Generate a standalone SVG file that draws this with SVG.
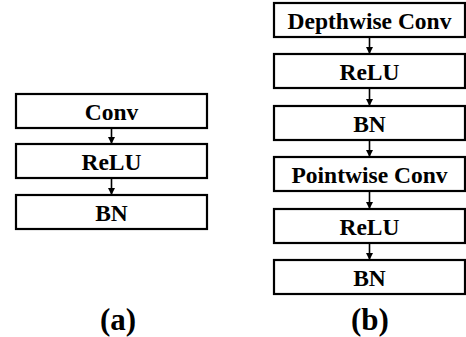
<svg xmlns="http://www.w3.org/2000/svg" width="466" height="337" viewBox="0 0 466 337">
<style>
.box{fill:#fff;stroke:#000;stroke-width:2.2}
.t{font-family:"Liberation Serif","Times New Roman",serif;font-weight:bold;font-size:23.5px;text-anchor:middle;fill:#000}
.lbl{font-family:"Liberation Serif","Times New Roman",serif;font-weight:bold;font-size:31px;text-anchor:middle;fill:#000}
.c{stroke:#000;stroke-width:1.6;fill:none}
</style>
<defs>
<marker id="ah" viewBox="0 0 8 8" refX="8" refY="4" markerWidth="4.5" markerHeight="4.5" orient="auto" markerUnits="strokeWidth">
<path d="M0,0 L8,4 L0,8 Z" fill="#000"/>
</marker>
</defs>
<rect width="466" height="337" fill="#fff"/>
<g id="connectors">
<line class="c" x1="111.5" y1="128" x2="111.5" y2="144" marker-end="url(#ah)"/>
<line class="c" x1="111.5" y1="178" x2="111.5" y2="195" marker-end="url(#ah)"/>
<line class="c" x1="369.5" y1="37" x2="369.5" y2="54" marker-end="url(#ah)"/>
<line class="c" x1="369.5" y1="88" x2="369.5" y2="106" marker-end="url(#ah)"/>
<line class="c" x1="369.5" y1="140" x2="369.5" y2="157" marker-end="url(#ah)"/>
<line class="c" x1="369.5" y1="191" x2="369.5" y2="209" marker-end="url(#ah)"/>
<line class="c" x1="369.5" y1="243" x2="369.5" y2="260" marker-end="url(#ah)"/>
</g>
<g id="a-conv"><rect class="box" x="16" y="94" width="191" height="34"/><text class="t" x="111.5" y="119.5">Conv</text></g>
<g id="a-relu"><rect class="box" x="16" y="144" width="191" height="34"/><text class="t" x="111.5" y="169.5">ReLU</text></g>
<g id="a-bn"><rect class="box" x="16" y="195" width="191" height="34"/><text class="t" x="111.5" y="220.5">BN</text></g>
<g id="b-dw"><rect class="box" x="274" y="3" width="191" height="34"/><text class="t" x="369.5" y="28.5">Depthwise Conv</text></g>
<g id="b-relu1"><rect class="box" x="274" y="54" width="191" height="34"/><text class="t" x="369.5" y="79.5">ReLU</text></g>
<g id="b-bn1"><rect class="box" x="274" y="106" width="191" height="34"/><text class="t" x="369.5" y="131.5">BN</text></g>
<g id="b-pw"><rect class="box" x="274" y="157" width="191" height="34"/><text class="t" x="369.5" y="182.5">Pointwise Conv</text></g>
<g id="b-relu2"><rect class="box" x="274" y="209" width="191" height="34"/><text class="t" x="369.5" y="234.5">ReLU</text></g>
<g id="b-bn2"><rect class="box" x="274" y="260" width="191" height="34"/><text class="t" x="369.5" y="285.5">BN</text></g>
<text class="lbl" x="118" y="330">(a)</text>
<text class="lbl" x="370" y="330">(b)</text>
</svg>
